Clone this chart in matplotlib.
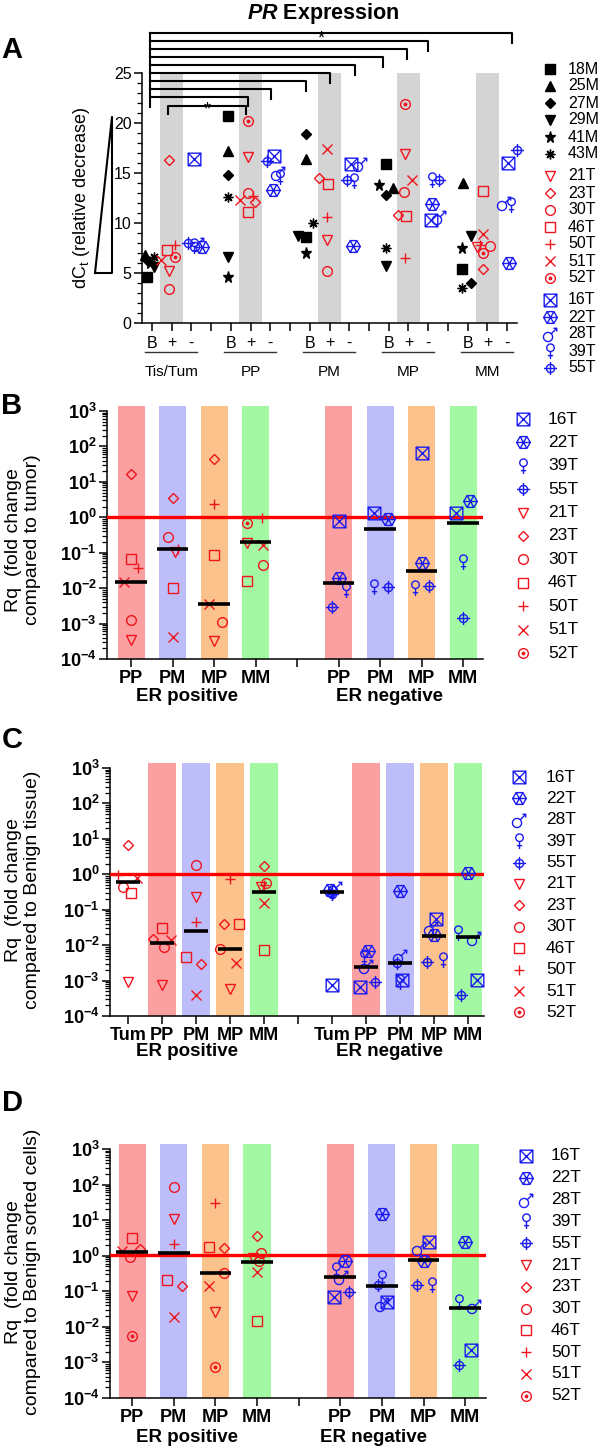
import numpy as np
import matplotlib
matplotlib.use('Agg')
import matplotlib.pyplot as plt
from matplotlib.path import Path
from matplotlib.transforms import blended_transform_factory
from matplotlib.ticker import LogLocator, NullFormatter, MultipleLocator

plt.rcParams['font.family'] = ['Liberation Sans', 'DejaVu Sans']
plt.rcParams['mathtext.fontset'] = 'custom'
plt.rcParams['mathtext.rm'] = 'Liberation Sans'
plt.rcParams['mathtext.bf'] = 'Liberation Sans:bold'
plt.rcParams['mathtext.it'] = 'Liberation Sans:italic:bold'

# -----------------------------------------------------------------------------
# data
# -----------------------------------------------------------------------------
A_GROUPS = ['Tis/Tum', 'PP', 'PM', 'MP', 'MM']
A_SUBLABELS = ['B', '+', '-']

# dCt per sample, one value per group (black = B, red = +, blue = -)
A_BLACK = {
    '18M': [4.6, 20.7, 8.6, 15.9, 5.4],
    '25M': [6.8, 17.2, 16.4, 13.5, 14.0],
    '27M': [6.2, 14.8, 18.9, 12.8, 4.0],
    '29M': [5.6, 6.6, 8.7, 5.7, 8.7],
    '41M': [6.0, 4.6, 7.0, 13.8, 7.5],
    '43M': [6.6, 12.6, 10.0, 7.5, 3.5],
}
A_RED = {
    '21T': [5.2, 16.6, 8.3, 16.9, 7.6],
    '23T': [16.3, 12.1, 14.5, 10.8, 5.4],
    '30T': [3.4, 13.0, 5.2, 13.1, 7.7],
    '46T': [7.3, 11.1, 13.9, 10.7, 13.2],
    '50T': [7.8, 12.7, 10.6, 6.5, 7.8],
    '51T': [6.3, 12.3, 17.4, 14.3, 8.9],
    '52T': [6.6, 20.2, None, 21.9, 7.0],
}
A_BLUE = {
    '16T': [16.4, 16.7, 15.9, 10.3, 16.0],
    '22T': [7.6, 13.3, 7.7, 11.9, 6.0],
    '28T': [7.9, 15.0, 15.9, 10.6, 12.0],
    '39T': [7.7, 14.6, 14.2, 14.3, 11.8],
    '55T': [8.0, 16.2, 14.3, 14.3, 17.3],
}
# significance brackets: right end of each bracket (category index)
A_BRACKET_ENDS = [19.25, 15.0, 13.95, 12.7, 11.3, 10.05, 8.8, 7.05, 5.85]

B_CATS = ['PP', 'PM', 'MP', 'MM']
B_RED = {
    '21T': [0.00035, 0.107, 0.00033, 0.19],
    '23T': [16.3, 3.4, 44, None],
    '30T': [0.00126, 0.27, 0.0011, 0.045],
    '46T': [0.067, 0.01, 0.086, 0.016],
    '50T': [0.038, 0.13, 2.4, 0.98],
    '51T': [0.0146, 0.00041, 0.0036, 0.166],
    '52T': [None, None, None, 0.71],
}
B_RED_MED = [0.015, 0.126, 0.0035, 0.197]
B_BLUE = {
    '16T': [0.79, 1.35, 66, 1.35],
    '22T': [0.019, 0.88, 0.05, 2.95],
    '39T': [0.0089, 0.011, 0.01, 0.056],
    '55T': [0.003, 0.011, 0.0118, 0.0014],
}
B_BLUE_MED = [0.0137, 0.46, 0.031, 0.68]

C_CATS = ['Tum', 'PP', 'PM', 'MP', 'MM']
C_RED = {
    '21T': [0.00091, 0.00074, 0.23, 0.00059, 0.43],
    '23T': [6.6, 0.015, 0.0029, 0.039, 1.72],
    '30T': [0.44, 0.0089, 1.87, 0.008, 0.55],
    '46T': [0.30, 0.03, 0.0046, 0.039, 0.0074],
    '50T': [0.93, None, 0.045, 0.76, 0.5],
    '51T': [0.79, 0.0144, 0.00038, 0.0032, 0.158],
}
C_RED_MED = [0.61, 0.0118, 0.0245, 0.0076, 0.31]
C_BLUE = {
    '16T': [0.00077, 0.00066, 0.00107, 0.056, 0.00107],
    '22T': [0.36, 0.0068, 0.33, 0.019, 1.09],
    '28T': [0.42, 0.0025, 0.005, 0.031, 0.016],
    '39T': [0.3, 0.0045, 0.0009, 0.0037, 0.022],
    '55T': [0.27, 0.00091, 0.0032, 0.0034, 0.0004],
}
C_BLUE_MED = [0.32, 0.0024, 0.0032, 0.018, 0.017]

D_CATS = ['PP', 'PM', 'MP', 'MM']
D_RED = {
    '21T': [0.072, 10.8, 0.026, 0.85],
    '23T': [1.56, 0.137, 1.62, 3.7],
    '30T': [0.91, 87, 0.32, 1.18],
    '46T': [3.2, 0.21, 1.73, 0.0148],
    '50T': [None, 2.1, 31, None],
    '51T': [1.4, 0.019, 0.137, 0.35],
    '52T': [0.0056, None, 0.00073, 0.69],
}
D_RED_MED = [1.26, 1.18, 0.32, 0.66]
D_BLUE = {
    '16T': [0.067, 0.05, 2.4, 0.0022],
    '22T': [0.73, 15, 0.73, 2.37],
    '28T': [0.25, 0.043, 1.6, 0.038],
    '39T': [0.385, 0.23, 0.15, 0.05],
    '55T': [0.093, 0.15, 0.146, 0.00087],
}
D_BLUE_MED = [0.25, 0.145, 0.76, 0.035]

# horizontal scatter of the symbols inside a category (category units)
A_JIT = {
    '18M': [-0.25, -0.15, -0.2, -0.15, -0.3], '25M': [-0.35, -0.15, -0.2, 0.2, -0.25],
    '27M': [-0.2, -0.15, -0.2, -0.15, 0.15], '29M': [0.1, -0.15, -0.6, -0.15, 0.15],
    '41M': [-0.1, -0.15, -0.2, -0.5, -0.3], '43M': [0.1, -0.15, 0.15, -0.15, -0.3],
    '21T': [-0.15, -0.15, -0.15, -0.2, -0.55], '23T': [-0.15, 0.2, -0.55, -0.55, -0.2],
    '30T': [-0.15, -0.15, -0.15, -0.25, 0.15], '46T': [-0.25, -0.15, -0.1, -0.1, -0.2],
    '50T': [0.15, 0.1, -0.15, -0.2, -0.4], '51T': [-0.55, -0.55, -0.15, 0.2, -0.2],
    '52T': [0.15, -0.15, 0, -0.2, -0.2],
    '16T': [0.15, 0.2, 0.1, 0.15, 0.05], '22T': [0.55, 0.15, 0.2, 0.2, 0.1],
    '28T': [0.3, 0.4, 0.55, 0.55, -0.15], '39T': [0.15, 0.5, 0.25, 0.2, 0.2],
    '55T': [-0.15, -0.15, -0.1, 0.55, 0.5],
}
B_JIT = {
    '21T': [0, 0.05, 0, -0.2], '23T': [0, 0, 0, 0], '30T': [0, -0.1, 0.2, 0.17],
    '46T': [0, 0, 0, -0.2], '50T': [0.17, 0.12, 0, 0.15], '51T': [-0.17, 0, -0.12, 0.17],
    '52T': [0, 0, 0, -0.2],
    '16T': [0, -0.15, 0, -0.17], '22T': [0, 0.2, 0, 0.17],
    '39T': [0.17, -0.15, -0.15, 0], '55T': [-0.17, 0.2, 0.17, 0],
}
C_JIT = {
    '21T': [0, 0, 0, 0, -0.1], '23T': [0, -0.27, 0.15, -0.18, 0],
    '30T': [-0.15, 0.05, 0, -0.3, 0.05], '46T': [0.1, 0, -0.3, 0.27, 0],
    '50T': [-0.3, 0, 0, 0, 0], '51T': [0.27, 0.25, 0, 0.18, 0],
    '16T': [0, -0.17, 0.05, 0.05, 0.25], '22T': [-0.05, 0.05, 0, 0, 0],
    '28T': [0.1, 0, 0, -0.1, 0.17], '39T': [0, -0.05, 0, 0.27, -0.3],
    '55T': [0, 0.27, -0.1, -0.2, -0.2],
}
D_JIT = {
    '21T': [0, 0, 0, -0.1], '23T': [0.2, 0.2, 0.2, 0], '30T': [-0.05, 0, 0.2, 0.1],
    '46T': [0, -0.15, -0.15, 0], '50T': [0, 0, 0, 0], '51T': [-0.25, 0, -0.15, 0],
    '52T': [0, 0, 0, 0.05],
    '16T': [-0.15, 0.12, 0.12, 0.15], '22T': [0.12, 0, 0, 0],
    '28T': [0.02, 0, -0.1, 0.2], '39T': [-0.1, 0, 0.2, -0.15],
    '55T': [0.2, -0.1, -0.15, -0.15],
}

# -----------------------------------------------------------------------------
# symbols
# -----------------------------------------------------------------------------
RED = '#f0141e'
BLUE = '#1c1cf0'
BAR_COLORS = {'PP': '#fba0a0', 'PM': '#bdbdf9', 'MP': '#fcc28c', 'MM': '#a3f9a3'}


def _circle(cx, cy, r, n=40):
    t = np.linspace(0, 2 * np.pi, n + 1)
    return (np.column_stack([cx + r * np.cos(t), cy + r * np.sin(t)]),
            [Path.MOVETO] + [Path.LINETO] * n)


def _seg(*pts):
    return np.array(pts, float), [Path.MOVETO] + [Path.LINETO] * (len(pts) - 1)


def _path(*parts):
    return Path(np.concatenate([p[0] for p in parts]), sum([p[1] for p in parts], []))


ang = np.deg2rad(np.arange(0, 361, 60))
BOXX = _path(_seg((-1, -1), (1, -1), (1, 1), (-1, 1), (-1, -1)),
             _seg((-1, -1), (1, 1)), _seg((-1, 1), (1, -1)))
HEXAST = _path((np.column_stack([np.cos(ang), np.sin(ang)]), [Path.MOVETO] + [Path.LINETO] * 6),
               _seg((-1, 0), (1, 0)), _seg((-0.5, -0.866), (0.5, 0.866)),
               _seg((-0.5, 0.866), (0.5, -0.866)))
CROSSO = _path(_circle(0, 0, 0.62), _seg((-1, 0), (1, 0)), _seg((0, -1), (0, 1)))
FEMALE = _path(_circle(0, 0.5, 0.5), _seg((0, 0), (0, -1)), _seg((-0.35, -0.55), (0.35, -0.55)))
MALE = _path(_circle(-0.3, -0.3, 0.55), _seg((0.09, 0.09), (0.75, 0.75)),
             _seg((0.35, 0.75), (0.75, 0.75), (0.75, 0.35)))

# (marker, size factor, filled)
STYLE = {
    '18M': [('s', 0.95, True)], '25M': [('^', 1.0, True)], '27M': [('D', 0.75, True)],
    '29M': [('v', 1.0, True)], '41M': [('*', 1.15, True)], '43M': [((8, 2, 0), 1.0, False)],
    '21T': [('v', 1.0, False)], '23T': [('D', 0.75, False)], '30T': [('o', 1.0, False)],
    '46T': [('s', 0.95, False)], '50T': [('+', 1.1, False)], '51T': [('x', 1.0, False)],
    '52T': [('o', 1.0, False), ('o', 0.25, True)],
    '16T': [(BOXX, 1.3, False)], '22T': [(HEXAST, 1.4, False)], '28T': [(MALE, 1.45, False)],
    '39T': [(FEMALE, 1.55, False)], '55T': [(CROSSO, 1.35, False)],
}


def color_of(name):
    if name.endswith('M'):
        return 'black'
    return BLUE if name in ('16T', '22T', '28T', '39T', '55T') else RED


def put(ax, x, y, name, ms):
    c = color_of(name)
    for mk, k, filled in STYLE[name]:
        ax.plot([x], [y], ls='none', marker=mk, ms=ms * k,
                mfc=c if filled else 'none', mec=c, mew=1.0,
                clip_on=False, zorder=5)


W, H = 600, 1449
fig = plt.figure(figsize=(W / 100, H / 100), dpi=100)


def px_rect(l, t, r, b):
    return [l / W, 1 - b / H, (r - l) / W, (b - t) / H]


over = fig.add_axes([0, 0, 1, 1], zorder=10)
over.set_xlim(0, W)
over.set_ylim(H, 0)
over.axis('off')


def style_axes(ax):
    for s in ('top', 'right'):
        ax.spines[s].set_visible(False)
    for s in ('left', 'bottom'):
        ax.spines[s].set_linewidth(1.1)
    ax.tick_params(which='major', length=6, width=1.1, pad=1.5)
    ax.tick_params(which='minor', length=3.5, width=0.9)
    ax.tick_params(axis='x', which='minor', length=0)


def legend(names, x_mk, x_txt, ys, fs, ms):
    for nm, y in zip(names, ys):
        put(over, x_mk, y, nm, ms)
        over.text(x_txt, y, nm, fontsize=fs, ha='left', va='center')


# -----------------------------------------------------------------------------
# panel A
# -----------------------------------------------------------------------------
axA = fig.add_axes(px_rect(142, 73, 517, 323))
style_axes(axA)
axA.set_xlim(0.5, 19.5)
axA.set_ylim(0, 25)
for g in range(len(A_GROUPS)):
    axA.bar(2 + 4 * g, 25, width=1.2, color='#d4d4d4', zorder=0)
for k, block in enumerate((A_BLACK, A_RED, A_BLUE)):
    for name, vals in block.items():
        for g, v in enumerate(vals):
            if v is not None:
                put(axA, 1 + k + 4 * g + A_JIT[name][g], v, name, 7)

axA.set_xticks(np.arange(1, 20))
axA.set_xticklabels(([*A_SUBLABELS, ''] * 5)[:19], fontsize=11.5)
axA.tick_params(axis='x', pad=3)
axA.yaxis.set_major_locator(MultipleLocator(5))
axA.yaxis.set_minor_locator(MultipleLocator(1))
axA.tick_params(axis='y', labelsize=11.5)

trA = blended_transform_factory(axA.transData, axA.transAxes)
for g, name in enumerate(A_GROUPS):
    c = 2 + 4 * g
    axA.plot([c - 1.35, c + 1.3], [-0.116, -0.116], color='#333333', lw=1.0,
             transform=trA, clip_on=False)
    axA.text(c, -0.196, name, transform=trA, ha='center', va='center', fontsize=11)

# brackets
for i, xe in enumerate(A_BRACKET_ENDS):
    y = 29.0 - 0.8 * i
    axA.plot([0.9, xe, xe], [y, y, y - 0.95], color='black', lw=1.5, clip_on=False)
axA.plot([0.9, 0.9], [29.0, 21.6], color='black', lw=1.5, clip_on=False)
axA.plot([1.8, 1.8, 5.75, 5.75], [20.9, 21.7, 21.7, 20.9], color='black', lw=1.5, clip_on=False)
axA.text(9.6, 28.0, '*', ha='center', va='baseline', fontsize=13, clip_on=False)
axA.text(3.8, 20.9, '*', ha='center', va='baseline', fontsize=13, clip_on=False)

fig.text(82 / W, 1 - 198 / H, r'd$\mathrm{C_t}$ (relative decrease)', rotation=90,
         ha='center', va='center', fontsize=13)
over.plot([95, 112, 112, 95], [273, 273, 117, 273], color='black', lw=1.5)

A_NAMES = [*A_BLACK, *A_RED, *A_BLUE]
A_Y = []
yy = 69.0
for i, nm in enumerate(A_NAMES):
    if i in (6, 13):
        yy += 5
    A_Y.append(yy)
    yy += 17.0
legend(A_NAMES, 550, 568, A_Y, 11.5, 7)


# -----------------------------------------------------------------------------
# panels B, C, D
# -----------------------------------------------------------------------------
def log_panel(rect, cats, red, red_med, blue, blue_med, jit, xlim, bar_w, med_hw,
              er_x, er_y):
    ax = fig.add_axes(rect)
    style_axes(ax)
    n = len(cats)
    xs_pos = np.arange(1, n + 1)
    xs_neg = np.arange(n + 2, 2 * n + 2)
    ax.set_yscale('log')
    ax.set_xlim(*xlim)
    ax.set_ylim(1e-4, 1e3)
    for xs in (xs_pos, xs_neg):
        for x, c in zip(xs, cats):
            if c in BAR_COLORS:
                ax.bar(x, 1.35e3 - 1e-4, bottom=1e-4, width=bar_w,
                       color=BAR_COLORS[c], zorder=0, clip_on=False)
    ax.axhline(1.05, color='#ff0000', lw=2.4, zorder=3)
    for block, xs in ((red, xs_pos), (blue, xs_neg)):
        for name, vals in block.items():
            for i, v in enumerate(vals):
                if v is not None:
                    put(ax, xs[i] + jit[name][i], v, name, 7)
    for med, xs in ((red_med, xs_pos), (blue_med, xs_neg)):
        ax.hlines(med, xs - med_hw, xs + med_hw, color='black', lw=2.6, zorder=6)
    ax.set_xticks(np.arange(1, 2 * n + 2))
    ax.set_xticklabels(cats + [''] + cats, fontweight='bold', fontsize=13)
    ax.tick_params(axis='x', pad=2)
    ax.set_yticks([10.0 ** k for k in range(-4, 4)])
    ax.set_yticklabels([r'$\mathbf{10^{%d}}$' % k for k in range(-4, 4)], fontsize=13)
    ax.yaxis.set_minor_locator(LogLocator(base=10, subs=np.arange(2, 10), numticks=20))
    ax.yaxis.set_minor_formatter(NullFormatter())
    tr = blended_transform_factory(ax.transData, ax.transAxes)
    for x, lab in zip(er_x, ('ER positive', 'ER negative')):
        ax.text(x, er_y, lab, transform=tr, ha='center', va='center',
                fontweight='bold', fontsize=13.5)
    return ax


log_panel(px_rect(107, 411, 483, 659), B_CATS, B_RED, B_RED_MED, B_BLUE, B_BLUE_MED,
          B_JIT, (0.42, 9.48), 0.65, 0.38, (2.35, 7.23), -0.153)
log_panel(px_rect(110, 768, 484, 1016), C_CATS, C_RED, C_RED_MED, C_BLUE, C_BLUE_MED,
          C_JIT, (0.47, 11.47), 0.8, 0.35, (2.73, 8.7), -0.145)
log_panel(px_rect(110, 1149, 486, 1398), D_CATS, D_RED, D_RED_MED, D_BLUE, D_BLUE_MED,
          D_JIT, (0.47, 9.5), 0.65, 0.38, (2.32, 6.79), -0.157)

for yc, txt in ((540, 'Rq  (fold change\ncompared to tumor)'),
                (890, 'Rq  (fold change\ncompared to Benign tissue)'),
                (1272, 'Rq  (fold change\ncompared to Benign sorted cells)')):
    fig.text(23 / W, 1 - yc / H, txt, rotation=90, ha='center', va='center',
             multialignment='center', fontsize=14, linespacing=1.1)

B_NAMES = [*B_BLUE, '21T', '23T', '30T', '46T', '50T', '51T', '52T']
legend(B_NAMES, 523, 548, 419 + 23.4 * np.arange(len(B_NAMES)), 12.5, 7)
CD_NAMES = [*C_BLUE, '21T', '23T', '30T', '46T', '50T', '51T', '52T']
legend(CD_NAMES, 519, 546, 777 + 21.4 * np.arange(len(CD_NAMES)), 12.5, 7)
legend(CD_NAMES, 526, 551, 1156 + 21.8 * np.arange(len(CD_NAMES)), 12.5, 7)

# panel letters and title
for lab, yc in (('A', 50), ('B', 406), ('C', 740), ('D', 1103)):
    fig.text(12 / W, 1 - yc / H, lab, fontsize=21, fontweight='bold', ha='center', va='center')
fig.text(323 / W, 1 - 1 / H, r'$\mathit{PR}$ Expression', fontsize=15.5, fontweight='bold',
         ha='center', va='top')

fig.savefig('out.png', dpi=100)
